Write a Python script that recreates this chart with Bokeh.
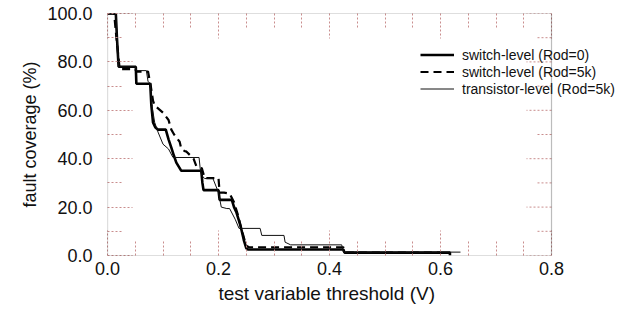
from bokeh.plotting import figure
from bokeh.models import (Range1d, LinearAxis, FixedTicker, NumeralTickFormatter,
                          CustomJSTickFormatter, Legend, LegendItem, BoxAnnotation, Title)
from bokeh.embed import file_html
from bokeh.resources import INLINE

# ---- ticks ----
x_ticks = [0.0, 0.2, 0.4, 0.6, 0.8]
x_minor = [0.05, 0.1, 0.15, 0.25, 0.3, 0.35, 0.45, 0.5, 0.55, 0.65, 0.7, 0.75]
y_ticks = [0, 20, 40, 60, 80, 100]
y_minor = [10, 30, 50, 70, 90]

# ---- series (threshold V, fault coverage %) ----
sw0_x = [0, 0.015, 0.017, 0.02, 0.051, 0.052, 0.077, 0.079, 0.082, 0.086, 0.091, 0.105,
         0.110, 0.115, 0.120, 0.124, 0.133, 0.169, 0.171, 0.173, 0.175, 0.2, 0.202, 0.224,
         0.228, 0.232, 0.236, 0.240, 0.243, 0.246, 0.250, 0.253, 0.425, 0.427, 0.617, 0.617]
sw0_y = [100, 100, 90, 78, 78, 71, 71, 62, 55, 53, 52, 52,
         48, 44.6, 41, 38.4, 35, 35, 30, 27, 27, 27, 23, 23,
         20, 18, 15, 12, 9, 6, 3, 2.5, 2.5, 1.2, 1.2, 0]

sw5_x = [0, 0.012, 0.016, 0.022, 0.05, 0.052, 0.073, 0.078, 0.082, 0.085, 0.09, 0.10,
         0.11, 0.115, 0.12, 0.13, 0.133, 0.14, 0.142, 0.155, 0.16, 0.17, 0.175, 0.2,
         0.202, 0.21, 0.22, 0.228, 0.232, 0.236, 0.24, 0.245, 0.25, 0.255, 0.425, 0.43, 0.60]
sw5_y = [100, 100, 90, 77, 77, 76, 76, 70, 64, 62, 61, 59,
         56, 52, 50, 47, 44, 43, 43, 40, 37, 36, 32, 32,
         26, 26, 25.6, 22, 19, 16, 12, 8, 4, 3.4, 3.4, 1.2, 1.2]

tr5_x = [0, 0.015, 0.02, 0.05, 0.052, 0.07, 0.073, 0.077, 0.08, 0.085, 0.091, 0.10,
         0.11, 0.118, 0.165, 0.167, 0.17, 0.175, 0.19, 0.2, 0.205, 0.215, 0.22, 0.23,
         0.237, 0.24, 0.255, 0.275, 0.278, 0.318, 0.32, 0.33, 0.422, 0.425, 0.636]
tr5_y = [100, 100, 78, 78, 76.4, 76.4, 72, 71, 62, 55, 51, 46,
         44, 40.5, 40.5, 36, 33, 31.8, 31.8, 26, 20, 19.4, 19.4, 15,
         11.2, 11.2, 11.2, 11.2, 8.3, 8.3, 5.5, 4.4, 4.4, 1.4, 1.4]

labels = ["switch-level (Rod=0)", "switch-level (Rod=5k)", "transistor-level (Rod=5k)"]
x_title = "test variable threshold (V)"
y_title = "fault coverage (%)"

FONT = "Liberation Sans"
TICK_COLOR = "#c98d8d"

X_MAX, Y_MAX = x_ticks[-1], y_ticks[-1]
BOX_W = 444                       # px width of the 0..0.8 box
FRAME_W = 518                     # frame extends right so the legend text fits
PX_PER_X = BOX_W / X_MAX

p = figure(frame_width=FRAME_W, frame_height=242,
           x_range=Range1d(0, FRAME_W / PX_PER_X), y_range=Range1d(0, Y_MAX),
           output_backend="svg", toolbar_location=None,
           min_border_left=107, min_border_top=13, min_border_right=5, min_border_bottom=0)
p.xgrid.visible = False
p.ygrid.visible = False
p.outline_line_color = None
p.background_fill_color = "white"
p.border_fill_color = "white"


def style(ax, ticks, minor, major_len, minor_len):
    ax.ticker = FixedTicker(ticks=ticks, minor_ticks=minor)
    ax.major_tick_in = major_len
    ax.major_tick_out = 0
    ax.minor_tick_in = minor_len
    ax.minor_tick_out = 0
    ax.major_tick_line_color = TICK_COLOR
    ax.minor_tick_line_color = TICK_COLOR
    ax.major_tick_line_dash = "2 2"
    ax.minor_tick_line_dash = "2 2"
    ax.major_tick_line_width = 1
    ax.minor_tick_line_width = 1
    ax.axis_line_color = None


xa = p.xaxis[0]
style(xa, x_ticks, x_minor, 25, 14)
xa.formatter = NumeralTickFormatter(format="0.0")
xa.major_label_text_font = FONT
xa.major_label_text_font_size = "18px"
xa.major_label_text_color = "#111111"
xa.major_label_standoff = 6

ya = p.yaxis[0]
style(ya, y_ticks, y_minor, 25, 14)
ya.formatter = NumeralTickFormatter(format="0.0")
ya.major_label_text_font = FONT
ya.major_label_text_font_size = "18px"
ya.major_label_text_color = "#111111"
ya.major_label_standoff = 15
ya.axis_label = y_title
ya.axis_label_text_font = FONT
ya.axis_label_text_font_size = "18px"
ya.axis_label_text_font_style = "normal"
ya.axis_label_text_color = "#111111"
ya.axis_label_standoff = 4

blank = CustomJSTickFormatter(code="return ''")
top = LinearAxis(formatter=blank, major_label_standoff=0)
style(top, x_ticks, x_minor, 25, 14)
p.add_layout(top, "above")

# x-axis title centred under the 0..0.8 box (frame is wider for the legend)
p.add_layout(Title(text=x_title, align="left", offset=111, standoff=6,
                   text_font=FONT, text_font_size="19px", text_font_style="normal",
                   text_color="#111111"), "below")

# right-hand inward dotted ticks of the 0..0.8 box
maj_len = 25 / PX_PER_X
min_len = 14 / PX_PER_X
p.segment(x0=[X_MAX] * len(y_ticks), y0=y_ticks, x1=[X_MAX - maj_len] * len(y_ticks), y1=y_ticks,
          line_color=TICK_COLOR, line_width=1, line_dash="2 2")
p.segment(x0=[X_MAX] * len(y_minor), y0=y_minor, x1=[X_MAX - min_len] * len(y_minor), y1=y_minor,
          line_color=TICK_COLOR, line_width=1, line_dash="2 2")

# plot box
p.add_layout(BoxAnnotation(left=0, right=X_MAX, bottom=0, top=Y_MAX,
                           fill_alpha=0, line_color="#222222", line_width=1.2))

r0 = p.line(sw0_x, sw0_y, line_color="black", line_width=2.6)
r1 = p.line(sw5_x, sw5_y, line_color="black", line_width=2.2, line_dash="8 5")
r2 = p.line(tr5_x, tr5_y, line_color="#111111", line_width=1)

legend = Legend(items=[LegendItem(label=labels[0], renderers=[r0]),
                       LegendItem(label=labels[1], renderers=[r1]),
                       LegendItem(label=labels[2], renderers=[r2])],
                location=(313, 158), orientation="vertical",
                border_line_color=None, background_fill_alpha=0,
                padding=0, margin=0, spacing=0,
                glyph_width=34, glyph_height=17, label_height=17,
                label_standoff=8,
                label_text_font=FONT, label_text_font_size="14px",
                label_text_color="#111111")
p.add_layout(legend)

open("out.html", "w").write(file_html(p, INLINE))
